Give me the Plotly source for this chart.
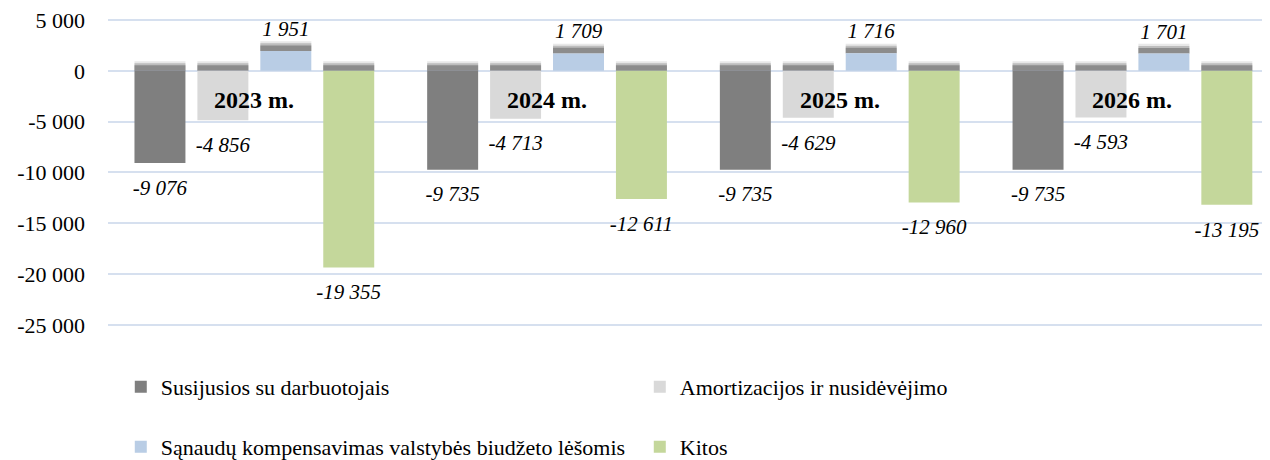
import plotly.graph_objects as go

"""Sąnaudų struktūra 2023-2026 m."""
years = ['2023 m.', '2024 m.', '2025 m.', '2026 m.']
series_names = ['Susijusios su darbuotojais', 'Amortizacijos ir nusidėvėjimo',
                'Sąnaudų kompensavimas valstybės biudžeto lėšomis', 'Kitos']
darbuotojai = [-9076, -9735, -9735, -9735]
amortizacija = [-4856, -4713, -4629, -4593]
kompensavimas = [1951, 1709, 1716, 1701]
kitos = [-19355, -12611, -12960, -13195]
tick_vals = [5000, 0, -5000, -10000, -15000, -20000, -25000]
tick_text = ['5 000', '0', '-5 000', '-10 000', '-15 000', '-20 000', '-25 000']

series = [darbuotojai, amortizacija, kompensavimas, kitos]
colors = ['#7f7f7f', '#d9d9d9', '#b9cde5', '#c4d79b']
legends = ['legend', 'legend', 'legend2', 'legend2']
FONT = 'Liberation Serif'


def fmt(v):
    return f"{v:,}".replace(',', ' ')


fig = go.Figure()
for i, vals in enumerate(series):
    # soft drop shadow above each bar's top edge (translucent layers fake the blur)
    for h, op in ((550, 0.6), (750, 0.35), (950, 0.15)):
        fig.add_trace(go.Bar(
            x=years, y=[h] * len(vals), base=[max(v, 0) for v in vals],
            offsetgroup=str(i), marker=dict(color='#6e6e6e', line_width=0),
            opacity=op, showlegend=False, hoverinfo='skip',
        ))
    fig.add_trace(go.Bar(
        x=years, y=vals, name=series_names[i], offsetgroup=str(i),
        marker=dict(color=colors[i], line_width=0), legend=legends[i],
    ))

# value labels, grouped the same way as the bars
for i, vals in enumerate(series):
    fig.add_trace(go.Scatter(
        x=years, y=vals, mode='markers+text', offsetgroup=str(i),
        text=[fmt(v) for v in vals],
        textposition=['top center' if v > 0 else 'bottom center' for v in vals],
        textfont=dict(family=FONT, size=21, color='#000000', style='italic'),
        marker=dict(size=[14 if v > 0 else 24 for v in vals], opacity=0),
        showlegend=False, hoverinfo='skip', cliponaxis=False,
    ))

for yr in years:
    fig.add_annotation(x=yr, y=-2850, text=f"<b>{yr}</b>", showarrow=False,
                       font=dict(family=FONT, size=24, color='#000000'))

fig.update_layout(
    width=1262, height=452,
    barmode='group', bargap=0.14, bargroupgap=0.19,
    scattermode='group', scattergap=0.14,
    plot_bgcolor='white', paper_bgcolor='white',
    margin=dict(l=100, r=0, t=10, b=117),
    font=dict(family=FONT, size=22, color='#000000'),
    xaxis=dict(range=[-0.5, 3.47], showticklabels=False, showgrid=False,
               zeroline=False, showline=False),
    yaxis=dict(range=[-26790, 5197], tickvals=tick_vals, ticktext=tick_text,
               tickfont=dict(family=FONT, size=22, color='#000000'),
               gridcolor='#d6e0ef', gridwidth=1.5, zeroline=False,
               showline=False, ticklabelstandoff=22, ticklabeloverflow='allow'),
    legend=dict(orientation='h', x=0.011, y=1 - 379 / 452, yref='container',
                xanchor='left', yanchor='middle', entrywidth=474,
                font=dict(family=FONT, size=22, color='#000000'),
                bgcolor='rgba(0,0,0,0)'),
    legend2=dict(orientation='h', x=0.011, y=1 - 439 / 452, yref='container',
                 xanchor='left', yanchor='middle', entrywidth=474,
                 font=dict(family=FONT, size=22, color='#000000'),
                 bgcolor='rgba(0,0,0,0)'),
    showlegend=True,
)
fig.write_html("out.html")
